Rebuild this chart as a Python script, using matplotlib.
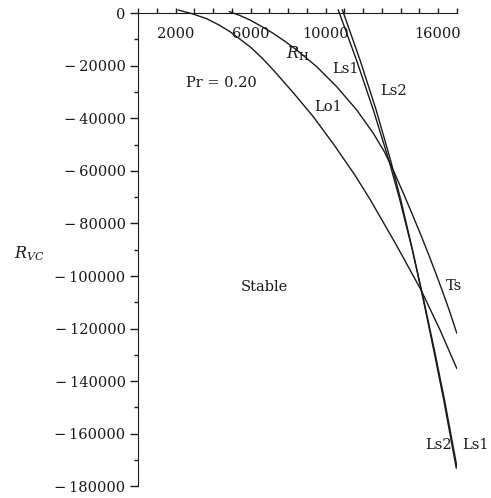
import matplotlib
matplotlib.use("Agg")
import matplotlib.pyplot as plt
from matplotlib.ticker import FixedLocator, FixedFormatter

plt.rcParams['font.family'] = ['DejaVu Serif']
plt.rcParams['mathtext.fontset'] = 'dejavuserif'

# Data
lo1_x = [2149, 2933, 3664, 4320, 4907, 5973, 6613, 7216, 8293, 9349, 10459, 11563,
         12395, 13776, 15093, 16107, 16997]
lo1_y = [1141, -380, -2167, -4562, -7110, -12813, -17110, -21670, -30420, -39430, -50190,
         -61590, -71100, -88210, -105310, -120520, -135090]

ts_x = [4880, 5440, 5973, 6587, 7216, 7840, 8464, 9531, 10597, 11664, 12549, 13147,
        13653, 14123, 14576, 15019, 15445, 15856, 16251, 16629, 16997]
ts_y = [494, -951, -2661, -5095, -7756, -10798, -14066, -20415, -28019, -36880, -45740,
        -52850, -60450, -68060, -75660, -83260, -90870, -98470, -106070, -113680, -121660]

ls_y = [1141, -17870, -36880, -55890, -71100, -90110, -109120, -128130, -147140, -172990]
ls1_x = [10680, 11650, 12550, 13375, 13965, 14630, 15237, 15805, 16347, 17020]
ls2_x = [10900, 11840, 12700, 13465, 14015, 14640, 15217, 15769, 16303, 16970]

xtick_vals = list(range(0, 17001, 1000))
xtick_labels = ["2000" if v == 2000 else "6000" if v == 6000 else "10000" if v == 10000
                else "16000" if v == 16000 else "" for v in xtick_vals]
ytick_major = list(range(-180000, 1, 20000))
ytick_minor = list(range(-170000, 0, 20000))

fig = plt.figure(figsize=(4.91, 4.98), dpi=100)
ax = fig.add_axes([0.2811, 0.0233, 0.6492, 0.9585])
ax.set_xlim(0, 17000)
ax.set_ylim(-180000, 1500)

col = '#1a1a1a'
lw = 1.0
for xs, ys in [(lo1_x, lo1_y), (ts_x, ts_y), (ls1_x, ls_y), (ls2_x, ls_y)]:
    ax.plot(xs, ys, color=col, lw=lw, solid_joinstyle='round')

for s in ['top', 'right']:
    ax.spines[s].set_visible(False)
ax.spines['bottom'].set_position(('data', 0))
ax.spines['left'].set_bounds(-180000, 0)
ax.spines['left'].set_color(col)
ax.spines['bottom'].set_color(col)

ax.xaxis.set_major_locator(FixedLocator(xtick_vals))
ax.xaxis.set_major_formatter(FixedFormatter(xtick_labels))
ax.tick_params(axis='x', direction='in', length=3.5, width=1, pad=10,
               labelsize=10.5, colors=col)

ax.yaxis.set_major_locator(FixedLocator(ytick_major))
ax.yaxis.set_minor_locator(FixedLocator(ytick_minor))
ax.set_yticklabels(["\u2212" + "\u2009" + str(-v) if v < 0 else "0" for v in ytick_major])
ax.tick_params(axis='y', which='major', direction='out', length=6, width=1, pad=3,
               labelsize=10.5, colors=col)
ax.tick_params(axis='y', which='minor', direction='out', length=3, width=1, colors=col)

fs = 10.5
ax.text(4427, -26610, "Pr = 0.20", fontsize=fs, ha='center', va='center', color=col)
ax.text(8500, -15500, r"$R_{\mathrm{H}}$", fontsize=11.5, ha='center', va='center', color=col)
ax.text(11040, -21290, "Ls1", fontsize=fs, ha='center', va='center', color=col)
ax.text(13653, -29660, "Ls2", fontsize=fs, ha='center', va='center', color=col)
ax.text(10133, -35740, "Lo1", fontsize=fs, ha='center', va='center', color=col)
ax.text(16853, -103800, "Ts", fontsize=fs, ha='center', va='center', color=col)
ax.text(6720, -104170, "Stable", fontsize=fs, ha='center', va='center', color=col)
ax.text(16053, -164250, "Ls2", fontsize=fs, ha='center', va='center', color=col)
ax.text(17973, -164250, "Ls1", fontsize=fs, ha='center', va='center', color=col)

fig.text(29 / 491, 1 - 254 / 498, r"$R_{VC}$", fontsize=11.5, ha='center', va='center', color=col)

fig.savefig("out.png", dpi=100)
